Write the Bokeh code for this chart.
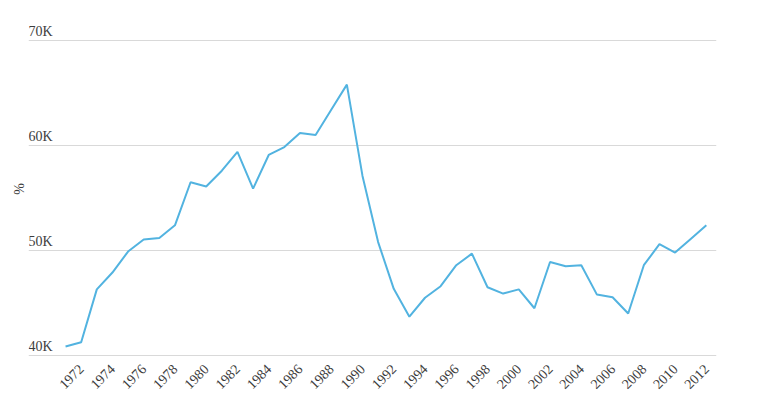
from bokeh.plotting import figure
from bokeh.models import FixedTicker, Range1d, ColumnDataSource
from bokeh.core.properties import value
from bokeh.embed import file_html
from bokeh.resources import INLINE
import math

years = list(range(1971, 2013))
values = [40860, 41270, 46300, 47900, 49900, 51050, 51200, 52400, 56500, 56100,
          57600, 59400, 55900, 59100, 59850, 61200, 61000, 63400, 65800, 57100,
          50800, 46350, 43700, 45500, 46600, 48600, 49700, 46500, 45900, 46300,
          44500, 48900, 48500, 48600, 45800, 45550, 44000, 48600, 50600, 49800,
          51100, 52400]
x_ticks = list(range(1972, 2013, 2))
y_ticks = [40000, 50000, 60000, 70000]
y_tick_labels = ["40K", "50K", "60K", "70K"]

FONT = "Liberation Serif"
TXT = "#3d3d3d"

x0, x1 = 1968.63, 2012.65
p = figure(width=767, height=402, output_backend="svg", toolbar_location=None,
           x_range=Range1d(x0, x1), y_range=Range1d(39810, 71905),
           min_border_left=28, min_border_right=51, min_border_top=20, min_border_bottom=45)
p.outline_line_color = None
p.background_fill_color = "white"

p.xgrid.visible = False
p.ygrid.ticker = FixedTicker(ticks=y_ticks)
p.ygrid.grid_line_color = "#d9d9d9"
p.ygrid.grid_line_width = 1

p.xaxis.ticker = FixedTicker(ticks=x_ticks)
p.xaxis.major_label_orientation = math.pi / 4
p.xaxis.axis_line_color = None
p.xaxis.major_tick_line_color = None
p.xaxis.minor_tick_line_color = None
p.xaxis.major_label_text_font = FONT
p.xaxis.major_label_text_font_size = "14px"
p.xaxis.major_label_text_color = TXT
p.xaxis.major_label_standoff = 3

p.yaxis.ticker = FixedTicker(ticks=[])
p.yaxis.axis_line_color = None
p.yaxis.major_tick_line_color = None
p.yaxis.minor_tick_line_color = None
p.yaxis.major_label_standoff = 0
p.yaxis.axis_label = "%"
p.yaxis.axis_label_text_font = FONT
p.yaxis.axis_label_text_font_style = "normal"
p.yaxis.axis_label_text_font_size = "14px"
p.yaxis.axis_label_text_color = TXT
p.yaxis.axis_label_standoff = 2

lab = ColumnDataSource(dict(x=[x0] * len(y_ticks), y=y_ticks, t=y_tick_labels))
p.text(x="x", y="y", text="t", source=lab, text_align="left", text_baseline="bottom",
       y_offset=-2, text_font=value(FONT), text_font_size="14px", text_color=TXT)

p.line(years, values, line_color="#52b3e0", line_width=2)

open("out.html", "w").write(file_html(p, INLINE))
